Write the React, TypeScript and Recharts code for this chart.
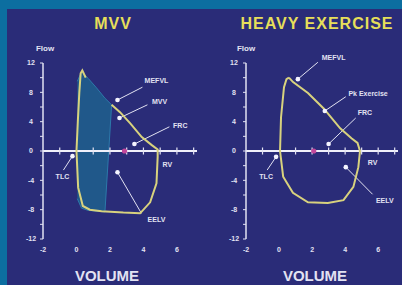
import { ComposedChart, XAxis, YAxis, Area, Scatter, ReferenceLine, ReferenceDot } from "recharts";

// Flow–volume loops: MVV (left) and heavy exercise (right), drawn on the
// old slide palette — navy field, teal frame, pale-yellow envelope.

const FONT = '"Liberation Sans", Arial, sans-serif';
const NAVY = "#2a2c78";
const TEAL_FRAME = "#0c6ea0";
const INK = "#e2e2f2";
const ENVELOPE = "#d8d27e";
const TITLE = "#e6df5a";

const X_TICKS = [-2, 0, 2, 4, 6];
const Y_TICKS = [-12, -10, -8, -6, -4, -2, 0, 2, 4, 6, 8, 10, 12];
const ZERO_TICKS = [-1, 1, 2, 3, 4, 5, 6, 7];

// MVV panel: maximal envelope (MEFVL) and the shaded MVV breathing band
const MVV_ENVELOPE = [
  { x: 2.1, y: 6.3 }, { x: 2.6, y: 5.3 }, { x: 3.2, y: 3.8 }, { x: 3.9, y: 1.9 },
  { x: 4.5, y: 0.8 }, { x: 4.85, y: 0.2 }, { x: 4.85, y: -0.8 }, { x: 4.78, y: -4.4 },
  { x: 4.4, y: -7.0 }, { x: 3.8, y: -8.5 }, { x: 2.8, y: -8.4 }, { x: 1.5, y: -8.2 },
  { x: 0.8, y: -8.0 }, { x: 0.38, y: -7.5 }, { x: 0.1, y: -5.0 }, { x: 0.0, y: 0 },
  { x: 0.08, y: 4.0 }, { x: 0.17, y: 8.0 }, { x: 0.25, y: 10.6 }, { x: 0.35, y: 11.0 },
  { x: 0.55, y: 10.0 },
];
const MVV_BAND = [
  { x: 0.05, band: [-6.5, 9.5] },
  { x: 0.3, band: [-7.8, 10.8] },
  { x: 0.7, band: [-8.1, 9.9] },
  { x: 1.2, band: [-8.2, 8.6] },
  { x: 1.7, band: [-8.3, 7.2] },
  { x: 2.1, band: [6.3, 6.3] },
];
const MVV_POINTS = [
  { x: 2.45, y: 6.96 }, { x: 2.57, y: 4.5 }, { x: 3.46, y: 0.95 },
  { x: -0.24, y: -0.7 }, { x: 2.45, y: -2.9 },
];
const MVV_MARK = [{ x: 2.87, y: 0 }];
const MVV_NOTES = [
  { label: "MEFVL", from: [2.45, 6.96], to: [3.94, 8.7], at: [4.78, 9.55], pos: "center" },
  { label: "MVV", from: [2.57, 4.5], to: [4.24, 6.3], at: [4.96, 6.8], pos: "center" },
  { label: "FRC", from: [3.46, 0.95], to: [5.55, 3.3], at: [6.2, 3.5], pos: "center" },
  { label: "RV", from: null, to: null, at: [5.43, -1.8], pos: "center" },
  { label: "TLC", from: [-0.24, -0.7], to: [-0.78, -2.6], at: [-0.84, -3.5], pos: "center" },
  { label: "EELV", from: [2.45, -2.9], to: [3.88, -8.5], at: [4.78, -9.4], pos: "center" },
];

// Heavy exercise panel
const EXERCISE_LOOP = [
  { x: 0.6, y: 10.0 }, { x: 0.85, y: 9.4 }, { x: 1.75, y: 7.9 }, { x: 2.7, y: 5.8 },
  { x: 3.7, y: 3.1 }, { x: 4.4, y: 1.7 }, { x: 4.75, y: 1.1 }, { x: 4.9, y: 0 },
  { x: 4.8, y: -2.2 }, { x: 4.5, y: -4.9 }, { x: 3.9, y: -6.7 }, { x: 2.95, y: -7.1 },
  { x: 1.75, y: -7.0 }, { x: 0.84, y: -5.7 }, { x: 0.25, y: -3.5 }, { x: 0.06, y: 0 },
  { x: 0.12, y: 4.6 }, { x: 0.3, y: 8.7 }, { x: 0.45, y: 9.8 }, { x: 0.6, y: 10.0 },
];
const EXERCISE_POINTS = [
  { x: 1.14, y: 9.8 }, { x: 2.77, y: 5.46 }, { x: 3.0, y: 0.95 },
  { x: -0.18, y: -0.8 }, { x: 4.04, y: -2.2 },
];
const EXERCISE_MARK = [{ x: 2.1, y: 0 }];
const EXERCISE_NOTES = [
  { label: "MEFVL", from: [1.14, 9.8], to: [2.35, 12.1], at: [3.3, 12.8], pos: "center" },
  { label: "Pk Exercise", from: [2.77, 5.46], to: [4.04, 7.4], at: [4.2, 7.9], pos: "right" },
  { label: "FRC", from: [3.0, 0.95], to: [4.64, 4.5], at: [4.76, 5.2], pos: "right" },
  { label: "RV", from: null, to: null, at: [5.66, -1.6], pos: "center" },
  { label: "TLC", from: [-0.18, -0.8], to: [-0.72, -2.6], at: [-0.78, -3.5], pos: "center" },
  { label: "EELV", from: [4.04, -2.2], to: [5.66, -5.9], at: [6.4, -6.7], pos: "center" },
];

type Pt = { x: number; y: number };
type Note = { label: string; from: number[] | null; to: number[] | null; at: number[]; pos: string };

function YTick({ x, y, payload }: { x?: number; y?: number; payload?: { value: number } }) {
  if (!payload || payload.value % 4 !== 0) return <g />;
  return (
    <text x={(x ?? 0) - 7} y={y} dy="0.35em" textAnchor="middle" fill={INK} fontSize={7} fontWeight="bold" fontFamily={FONT}>
      {payload.value}
    </text>
  );
}

const noShape = () => <g />;
const dotShape = (p: { cx?: number; cy?: number }) => <circle cx={p.cx} cy={p.cy} r={2.3} fill="#f4f4ff" />;
const pinkShape = (p: { cx?: number; cy?: number }) => <circle cx={p.cx} cy={p.cy} r={2.6} fill="#c2479c" />;
const tickShape = (p: { cx?: number; cy?: number }) => (
  <rect x={(p.cx ?? 0) - 0.6} y={(p.cy ?? 0) - 3.5} width={1.2} height={7} fill={INK} />
);

function Panel({ left, axisWidth, loop, band, points, mark, notes }: {
  left: number; axisWidth: number; loop: Pt[]; band?: typeof MVV_BAND; points: Pt[]; mark: Pt[]; notes: Note[];
}) {
  const zero = ZERO_TICKS.map((x) => ({ x, y: 0 }));
  return (
    <div style={{ position: "absolute", left, top: 0 }}>
      <ComposedChart width={201} height={285} data={band ?? []} margin={{ top: 63, right: 4, bottom: 26, left: 0 }}>
        <XAxis
          type="number" dataKey="x" domain={[-2, 7.2]} ticks={X_TICKS} axisLine={false} tickLine={false} height={20}
          tick={{ fill: INK, fontSize: 7, fontWeight: "bold", fontFamily: FONT }}
        />
        <YAxis
          type="number" dataKey="y" domain={[-12, 12]} ticks={Y_TICKS} width={axisWidth} interval={0}
          axisLine={{ stroke: INK, strokeWidth: 1.5 }} tickLine={{ stroke: INK }} tickSize={3} tick={<YTick />}
        />
        {band && (
          <Area
            dataKey="band" type="linear" fill="#1d6790" fillOpacity={0.75} stroke="#2c79aa" strokeWidth={1}
            isAnimationActive={false} dot={false} activeDot={false}
          />
        )}
        <ReferenceLine y={0} stroke="#f0f0fa" strokeWidth={2} />
        <Scatter data={zero} shape={tickShape} isAnimationActive={false} />
        <Scatter
          data={loop} shape={noShape} line={{ stroke: ENVELOPE, strokeWidth: 2 }} lineType="joint"
          lineJointType="linear" isAnimationActive={false}
        />
        <Scatter data={mark} shape={pinkShape} isAnimationActive={false} />
        {notes.filter((n) => n.from && n.to).map((n) => (
          <ReferenceLine
            key={n.label + "-lead"} ifOverflow="visible" stroke={INK} strokeWidth={1}
            segment={[{ x: n.from![0], y: n.from![1] }, { x: n.to![0], y: n.to![1] }]}
          />
        ))}
        <Scatter data={points} shape={dotShape} isAnimationActive={false} />
        {notes.map((n) => (
          <ReferenceDot
            key={n.label} x={n.at[0]} y={n.at[1]} r={0} ifOverflow="visible" stroke="none" fill="none"
            label={{
              value: n.label, position: n.pos as "center" | "right", offset: 0,
              fill: INK, fontSize: 7, fontWeight: "bold", fontFamily: FONT,
            }}
          />
        ))}
      </ComposedChart>
    </div>
  );
}

const centered = (cx: number, top: number) => ({
  position: "absolute" as const, left: cx, top, transform: "translateX(-50%)", whiteSpace: "nowrap" as const,
  fontFamily: FONT, fontWeight: "bold" as const,
});

export default function App() {
  return (
    <div style={{ position: "absolute", left: 0, top: 0, width: 402, height: 285, background: TEAL_FRAME, overflow: "hidden" }}>
      <div style={{ position: "absolute", left: 7, top: 9, width: 395, height: 276, background: NAVY }} />
      <div style={{ ...centered(113, 16), color: TITLE, fontSize: 16, lineHeight: "16px", letterSpacing: 1 }}>MVV</div>
      <div style={{ ...centered(317, 16), color: TITLE, fontSize: 16, lineHeight: "16px", letterSpacing: 1 }}>HEAVY EXERCISE</div>
      <div style={{ ...centered(45, 44), color: INK, fontSize: 8, lineHeight: "10px" }}>Flow</div>
      <div style={{ ...centered(246, 44), color: INK, fontSize: 8, lineHeight: "10px" }}>Flow</div>
      <Panel left={0} axisWidth={43} loop={MVV_ENVELOPE} band={MVV_BAND} points={MVV_POINTS} mark={MVV_MARK} notes={MVV_NOTES} />
      <Panel left={201} axisWidth={45} loop={EXERCISE_LOOP} points={EXERCISE_POINTS} mark={EXERCISE_MARK} notes={EXERCISE_NOTES} />
      <div style={{ ...centered(107, 268), color: INK, fontSize: 15, lineHeight: "15px" }}>VOLUME</div>
      <div style={{ ...centered(315, 268), color: INK, fontSize: 15, lineHeight: "15px" }}>VOLUME</div>
    </div>
  );
}
